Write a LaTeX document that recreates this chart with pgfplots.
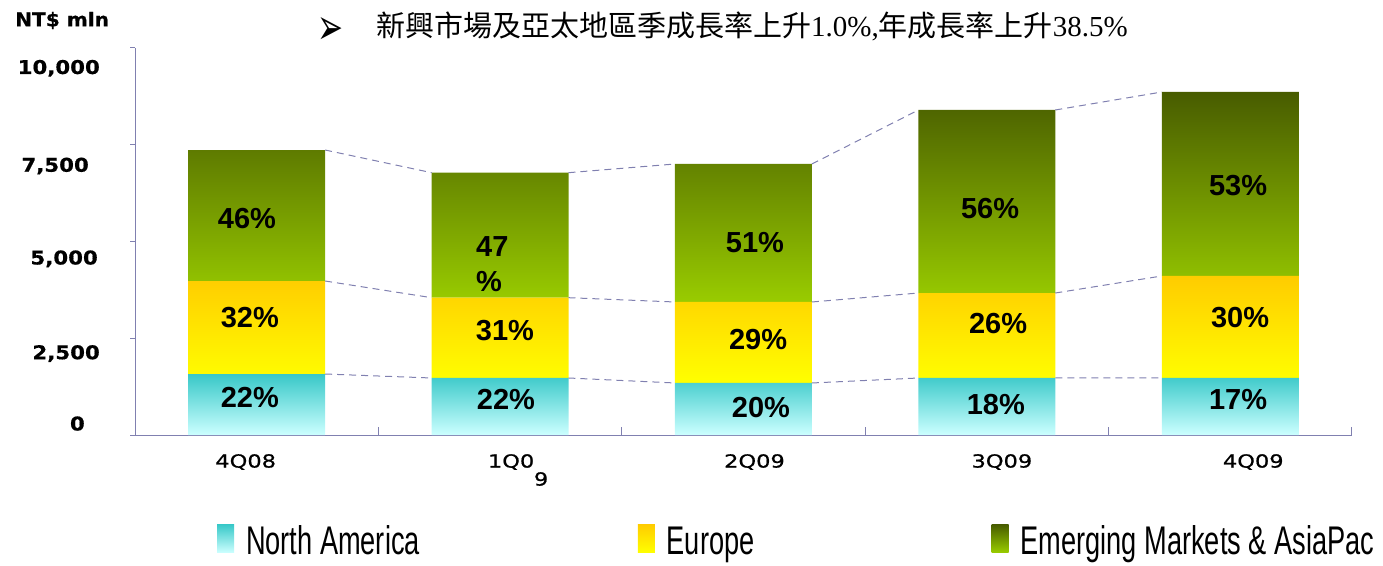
\documentclass[border=0pt]{standalone}
\usepackage{fontspec}
\usepackage{pgfplots}
\pgfplotsset{compat=1.18}
\newfontfamily\cjk{Noto Sans CJK TC}
\newfontfamily\tnr{Liberation Serif}
\newfontfamily\dvs{DejaVu Sans}
\newfontfamily\lsans{Liberation Sans}
\newfontfamily\narrow{Liberation Sans}[FakeStretch=0.68]
\newfontfamily\xfont{DejaVu Sans}[FakeStretch=1.25,FakeBold=0.8]
\newfontfamily\yfont{DejaVu Sans}[FakeStretch=1.12,FakeBold=0.5]
\newfontfamily\ylfont{DejaVu Sans}[FakeStretch=1.06,FakeBold=0.5]
\definecolor{axcol}{RGB}{128,128,176}
\definecolor{natop}{RGB}{56,200,200}
\definecolor{nabot}{RGB}{204,255,255}
\definecolor{eutop}{RGB}{255,204,0}
\definecolor{eubot}{RGB}{255,255,0}
\definecolor{emtop}{RGB}{72,92,0}
\definecolor{embot}{RGB}{153,204,0}
\begin{document}
\begin{tikzpicture}[pct/.style={font=\lsans\bfseries\fontsize{29}{35}\selectfont, inner sep=0pt}]
\useasboundingbox (0,0) rectangle (1383pt,565pt);
\begin{axis}[
  at={(135pt,130pt)}, anchor=south west,
  scale only axis, width=1217pt, height=387pt,
  xmin=-0.5, xmax=4.5, ymin=0, ymax=10000, enlargelimits=false,
  ybar stacked, bar width=137pt,
  axis x line=bottom, axis y line=left,
  axis line style={-, draw=axcol, line width=1pt},
  tick style={draw=axcol, line width=1pt},
  tick align=inside, major tick length=8pt,
  xtick={-0.5,0.5,1.5,2.5,3.5,4.5}, xticklabels={},
  extra x ticks={0,1,2,3,4},
  extra x tick labels={{4Q08\hspace*{22pt}\mbox{}},{\hspace*{36pt}1Q0\\\hspace*{82pt}9},{\hspace*{22pt}2Q09},{\hspace*{30pt}3Q09},{\hspace*{46pt}4Q09}},
  extra x tick style={major tick length=0pt},
  xticklabel style={font=\xfont\fontsize{18}{18}\selectfont, anchor=north, align=left, inner sep=0pt, yshift=-19pt},
  ytick=\empty,
  extra y ticks={0,2500,5000,7500,10000},
  extra y tick labels={{\smash{\raisebox{4.5pt}{0}}\hspace*{15pt}},{\smash{\raisebox{-21pt}{2,500}}},{\smash{\raisebox{-23pt}{5,000}}\hspace*{2pt}},{\smash{\raisebox{-27pt}{7,500}}\hspace*{11pt}},{\smash{\raisebox{-26pt}{10,000}}}},
  extra y tick style={tick align=outside, major tick length=5pt},
  yticklabel style={font=\yfont\bfseries\fontsize{19}{22}\selectfont, anchor=east, inner sep=0pt, xshift=-30pt},
  ylabel={NT\$ mln},
  ylabel style={rotate=-90, at={(axis description cs:-0.0986,1.071)}, anchor=west, inner sep=0pt, font=\ylfont\bfseries\fontsize{19}{22}\selectfont},
  title={\raisebox{-8pt}{\resizebox{26pt}{27pt}{\dvs ➢}}\hspace*{33pt}{\cjk 新興市場及亞太地區季成長率上升}{\tnr 1.0\%,}{\cjk 年成長率上升}{\tnr 38.5\%}},
  title style={at={(axis description cs:0.1495,1.013)}, anchor=base west, inner sep=0pt, font=\fontsize{29}{34}\selectfont},
  legend columns=3,
  legend cell align=left,
  legend style={at={(axis description cs:0.0674,-0.2817)}, anchor=west, draw=none, fill=none, inner sep=0pt, outer sep=0pt,
    font=\narrow\fontsize{40}{44}\selectfont, nodes={inner sep=0pt, text height=29pt, text depth=9pt},
    /tikz/every odd column/.append style={column sep=12pt},
    /tikz/every even column/.append style={column sep=218pt}},
]
\addplot[draw=none, top color=natop, bottom color=nabot,
  legend image code/.code={\path[top color=natop,bottom color=nabot] (0pt,-8pt) rectangle (17pt,20pt);}]
  coordinates {(0,1576) (1,1473) (2,1344) (3,1473) (4,1473)};
\addlegendentry{North America}
\addplot[draw=none, top color=eutop, bottom color=eubot,
  legend image code/.code={\path[top color=eutop,bottom color=eubot] (0pt,-8pt) rectangle (17pt,20pt);}]
  coordinates {(0,2403) (1,2075) (2,2093) (3,2196) (4,2636)};
\addlegendentry{Europe\hspace*{19pt}}
\addplot[draw=none, top color=emtop, bottom color=embot,
  legend image code/.code={\path[top color=emtop,bottom color=embot] (0pt,-8pt) rectangle (17pt,20pt);}]
  coordinates {(0,3385) (1,3230) (2,3566) (3,4729) (4,4754)};
\addlegendentry{Emerging Markets \& AsiaPac}
\end{axis}
\begin{axis}[
  at={(135pt,130pt)}, anchor=south west,
  scale only axis, width=1217pt, height=387pt,
  xmin=-0.5, xmax=4.5, ymin=0, ymax=10000, enlargelimits=false,
  axis lines=none, clip=false,
]
\addplot[axcol, line width=1pt, dash pattern=on 7pt off 5pt, mark=none, unbounded coords=jump]
  coordinates {(0.281,1576) (0.719,1473) (1,nan) (1.281,1473) (1.719,1344) (2,nan) (2.281,1344) (2.719,1473) (3,nan) (3.281,1473) (3.719,1473)};
\addplot[axcol, line width=1pt, dash pattern=on 7pt off 5pt, mark=none, unbounded coords=jump]
  coordinates {(0.281,3979) (0.719,3548) (1,nan) (1.281,3548) (1.719,3437) (2,nan) (2.281,3437) (2.719,3669) (3,nan) (3.281,3669) (3.719,4109)};
\addplot[axcol, line width=1pt, dash pattern=on 7pt off 5pt, mark=none, unbounded coords=jump]
  coordinates {(0.281,7364) (0.719,6778) (1,nan) (1.281,6778) (1.719,7003) (2,nan) (2.281,7003) (2.719,8398) (3,nan) (3.281,8398) (3.719,8863)};
\node[pct] at (axis cs:-0.040,5581) {46\%};
\node[pct] at (axis cs:-0.028,3023) {32\%};
\node[pct] at (axis cs:-0.028,969) {22\%};
\node[pct, align=left, anchor=west] at (axis cs:0.901,4419) {47\\\%};
\node[pct] at (axis cs:1.020,2687) {31\%};
\node[pct] at (axis cs:1.024,930) {22\%};
\node[pct] at (axis cs:2.047,4961) {51\%};
\node[pct] at (axis cs:2.060,2455) {29\%};
\node[pct] at (axis cs:2.072,698) {20\%};
\node[pct] at (axis cs:3.013,5840) {56\%};
\node[pct] at (axis cs:3.046,2868) {26\%};
\node[pct] at (axis cs:3.037,775) {18\%};
\node[pct] at (axis cs:4.032,6434) {53\%};
\node[pct] at (axis cs:4.040,3023) {30\%};
\node[pct] at (axis cs:4.032,904) {17\%};
\end{axis}
\end{tikzpicture}
\end{document}
